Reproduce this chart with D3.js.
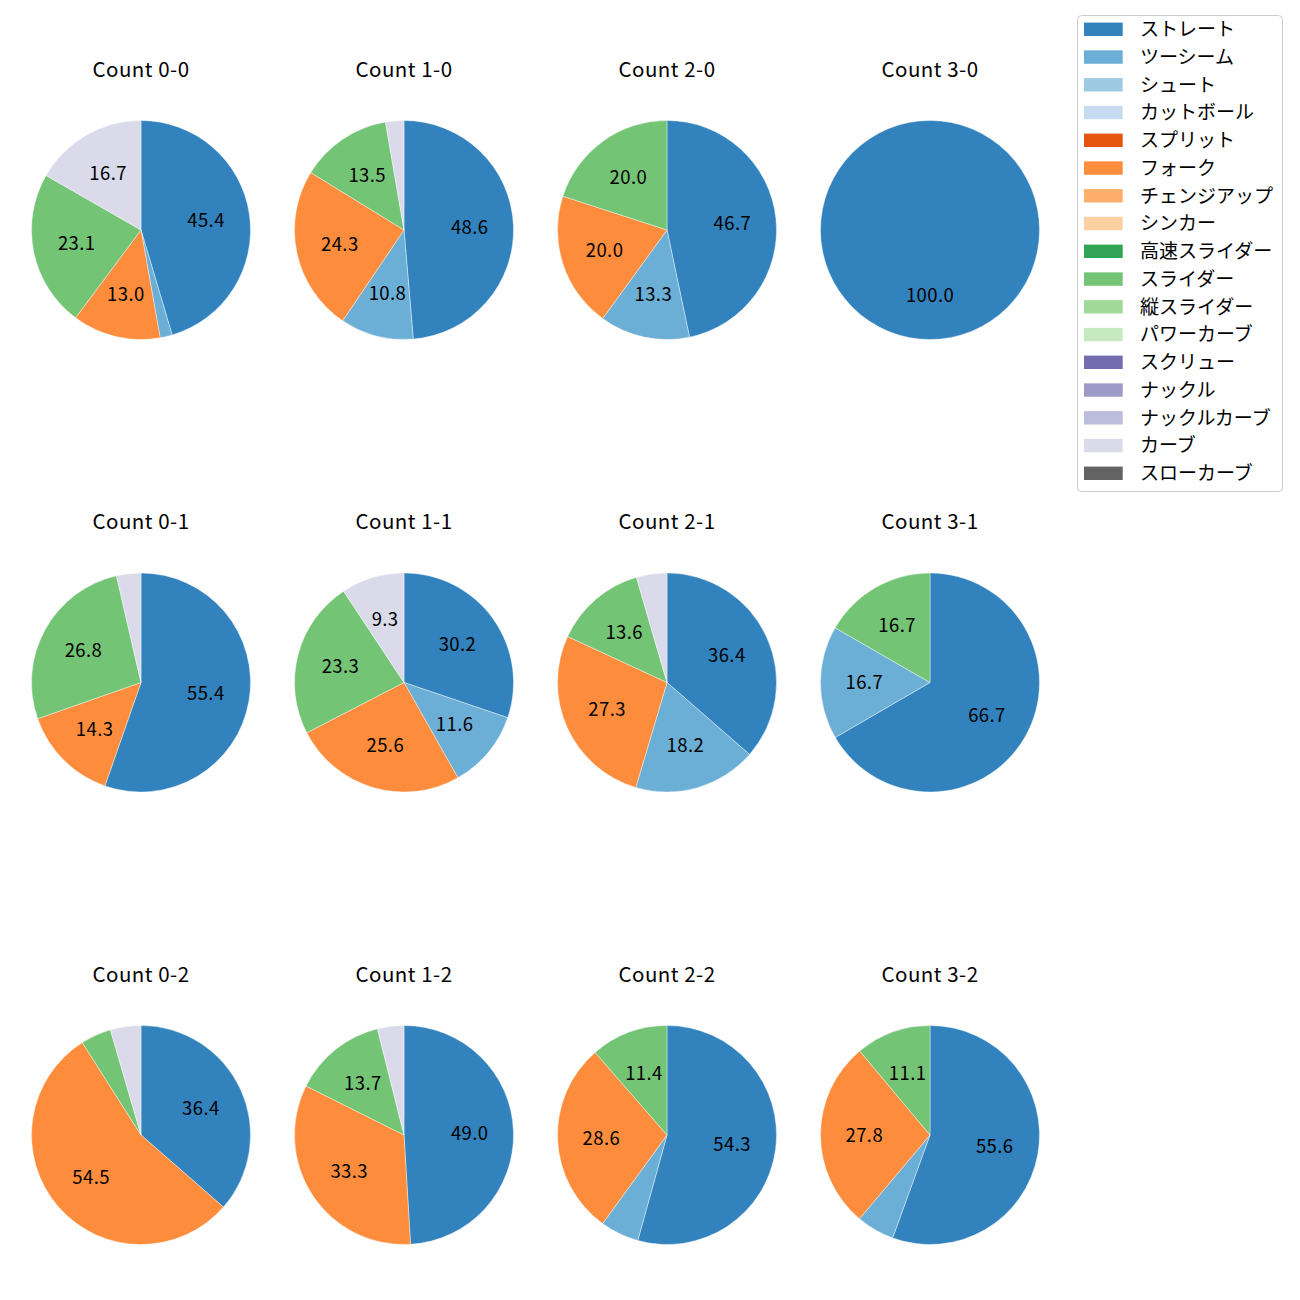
<!DOCTYPE html>
<html>
<head>
<meta charset="utf-8">
<script src="https://cdn.jsdelivr.net/npm/d3@7/dist/d3.min.js"></script>
<style>
  html, body { margin: 0; padding: 0; background: #ffffff; }
  svg { display: block; }
  text { font-family: "Noto Sans CJK JP", "Noto Sans", sans-serif; }
</style>
</head>
<body>
<svg id="chart" width="1300" height="1300"></svg>
<script>
// ---- data ----
const pitchTypes = ["ストレート","ツーシーム","シュート","カットボール","スプリット","フォーク","チェンジアップ","シンカー","高速スライダー","スライダー","縦スライダー","パワーカーブ","スクリュー","ナックル","ナックルカーブ","カーブ","スローカーブ"];
const pitchColors = ["#3182bd","#6baed6","#9ecae1","#c6dbef","#e6550d","#fd8d3c","#fdae6b","#fdd0a2","#31a354","#74c476","#a1d99b","#c7e9c0","#756bb1","#9e9ac8","#bcbddc","#dadaeb","#636363"];
const balls = [0, 1, 2, 3];
const strikes = [0, 1, 2];
// percentages per count, in pitchTypes order
const count0_0 = [45.4, 1.8, 0, 0, 0, 13.0, 0, 0, 0, 23.1, 0, 0, 0, 0, 0, 16.7, 0];
const count1_0 = [48.6, 10.8, 0, 0, 0, 24.3, 0, 0, 0, 13.5, 0, 0, 0, 0, 0, 2.7, 0];
const count2_0 = [46.7, 13.3, 0, 0, 0, 20.0, 0, 0, 0, 20.0, 0, 0, 0, 0, 0, 0, 0];
const count3_0 = [100.0, 0, 0, 0, 0, 0, 0, 0, 0, 0, 0, 0, 0, 0, 0, 0, 0];
const count0_1 = [55.4, 0, 0, 0, 0, 14.3, 0, 0, 0, 26.8, 0, 0, 0, 0, 0, 3.6, 0];
const count1_1 = [30.2, 11.6, 0, 0, 0, 25.6, 0, 0, 0, 23.3, 0, 0, 0, 0, 0, 9.3, 0];
const count2_1 = [36.4, 18.2, 0, 0, 0, 27.3, 0, 0, 0, 13.6, 0, 0, 0, 0, 0, 4.5, 0];
const count3_1 = [66.7, 16.7, 0, 0, 0, 0, 0, 0, 0, 16.7, 0, 0, 0, 0, 0, 0, 0];
const count0_2 = [36.4, 0, 0, 0, 0, 54.5, 0, 0, 0, 4.5, 0, 0, 0, 0, 0, 4.5, 0];
const count1_2 = [49.0, 0, 0, 0, 0, 33.3, 0, 0, 0, 13.7, 0, 0, 0, 0, 0, 3.9, 0];
const count2_2 = [54.3, 5.7, 0, 0, 0, 28.6, 0, 0, 0, 11.4, 0, 0, 0, 0, 0, 0, 0];
const count3_2 = [55.6, 5.6, 0, 0, 0, 27.8, 0, 0, 0, 11.1, 0, 0, 0, 0, 0, 0, 0];
const countValues = {
  "0-0": count0_0, "1-0": count1_0, "2-0": count2_0, "3-0": count3_0,
  "0-1": count0_1, "1-1": count1_1, "2-1": count2_1, "3-1": count3_1,
  "0-2": count0_2, "1-2": count1_2, "2-2": count2_2, "3-2": count3_2
};
const labelMin = 7;

// ---- layout ----
const svg = d3.select("#chart");
const R = 109.5;
const colX = d3.scaleBand().domain(balls).range([9.5, 1061.5]);
const rowY = d3.scaleBand().domain(strikes).range([3.75, 1361.25]);
const color = d3.scaleOrdinal().domain(pitchTypes).range(pitchColors);

const pie = d3.pie()
  .sort(null)
  .value(d => d.value)
  .startAngle(0)
  .endAngle(2 * Math.PI);
const arc = d3.arc().innerRadius(0).outerRadius(R);
const labelArc = d3.arc().innerRadius(R * 0.6).outerRadius(R * 0.6);

strikes.forEach(s => {
  balls.forEach(b => {
    const key = b + "-" + s;
    const vals = countValues[key];
    const data = pitchTypes.map((p, i) => ({ type: p, value: vals[i] })).filter(d => d.value > 0);
    const cx = colX(b) + colX.bandwidth() / 2;
    const cy = rowY(s) + rowY.bandwidth() / 2;
    const g = svg.append("g").attr("transform", `translate(${cx},${cy})`);
    const arcs = pie(data);
    g.selectAll("path.slice").data(arcs).enter().append("path")
      .attr("class", "slice")
      .attr("d", arc)
      .attr("fill", d => color(d.data.type))
      .attr("stroke", "#ffffff")
      .attr("stroke-width", 0.4);
    g.selectAll("text.lbl").data(arcs.filter(d => d.data.value >= labelMin)).enter().append("text")
      .attr("class", "lbl")
      .attr("transform", d => `translate(${labelArc.centroid(d)})`)
      .attr("text-anchor", "middle")
      .attr("dy", "0.36em")
      .attr("font-size", "18.5px")
      .attr("letter-spacing", "0.4px")
      .attr("fill", "#000")
      .text(d => d.data.value.toFixed(1));
    svg.append("text")
      .attr("x", cx)
      .attr("y", cy - 153.5)
      .attr("text-anchor", "middle")
      .attr("font-size", "20.5px")
      .attr("letter-spacing", "0.5px")
      .attr("fill", "#000")
      .text("Count " + key);
  });
});

// ---- legend ----
const lg = svg.append("g");
lg.append("rect")
  .attr("x", 1077.5).attr("y", 15.5)
  .attr("width", 205).attr("height", 476)
  .attr("rx", 4).attr("ry", 4)
  .attr("fill", "#ffffff")
  .attr("stroke", "#cccccc")
  .attr("stroke-width", 1);
const legY = d3.scaleLinear().domain([0, pitchTypes.length - 1]).range([29.3, 473.3]);
const items = lg.selectAll("g.item").data(pitchTypes).enter().append("g")
  .attr("class", "item")
  .attr("transform", (d, i) => `translate(0,${legY(i)})`);
items.append("rect")
  .attr("x", 1084).attr("y", -6.7)
  .attr("width", 38.7).attr("height", 13.4)
  .attr("fill", d => color(d));
items.append("text")
  .attr("x", 1140)
  .attr("dy", "0.36em")
  .attr("font-size", "19px")
  .attr("fill", "#000")
  .text(d => d);
</script>
</body>
</html>
